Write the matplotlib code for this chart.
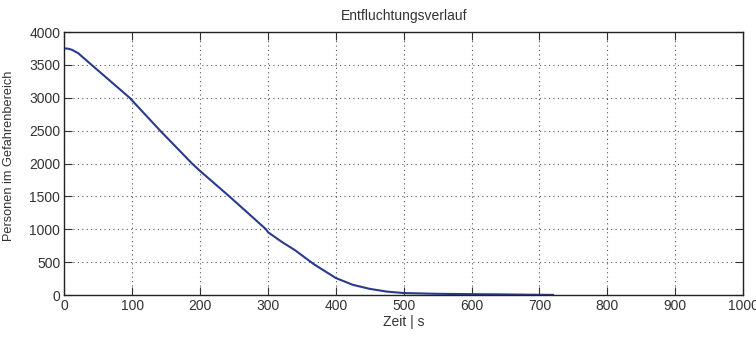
import matplotlib

matplotlib.use("Agg")
import matplotlib.pyplot as plt

# evacuation curve (time in s, persons)
zeit_s = [0, 5, 11, 20, 40, 96, 141, 188, 200, 243, 297, 300, 320, 340,
          366, 375, 400, 425, 450, 475, 500, 550, 600, 640, 680, 720]
personen = [3750, 3748, 3730, 3680, 3500, 3000, 2500, 2000, 1885, 1500, 1000,
            955, 810, 680, 480, 420, 258, 155, 93, 52, 30, 18, 13, 10, 5, 2]

x_ticks = list(range(0, 1001, 100))
y_ticks = list(range(0, 4001, 500))

plt.rcParams["font.family"] = ["Liberation Sans", "DejaVu Sans"]

fig = plt.figure(figsize=(7.56, 3.38), dpi=100)
ax = fig.add_axes([0.0853, 0.1272, 0.8975, 0.778])

ax.plot(zeit_s, personen, color="#2a3a8c", linewidth=1.5)

ax.set_xlim(0, 1000)
ax.set_ylim(0, 4000)
ax.set_xticks(x_ticks)
ax.set_yticks(y_ticks)
ax.tick_params(direction="in", length=6, labelsize=10, top=True, right=True,
               labeltop=False, labelright=False, color="#333333",
               labelcolor="#333333", pad=3)
ax.grid(True, color="#555555", linestyle=(0, (1, 3)), linewidth=0.8)
for s in ax.spines.values():
    s.set_color("#222222")
    s.set_linewidth(1.0)

ax.set_title("Entfluchtungsverlauf", fontsize=10, color="#333333", pad=9)
ax.set_xlabel("Zeit | s", fontsize=10, color="#333333", labelpad=1)
ax.set_ylabel("Personen im Gefahrenbereich", fontsize=9.2, color="#333333")
ax.yaxis.set_label_coords(-0.073, 0.528)

fig.savefig("out.png")
